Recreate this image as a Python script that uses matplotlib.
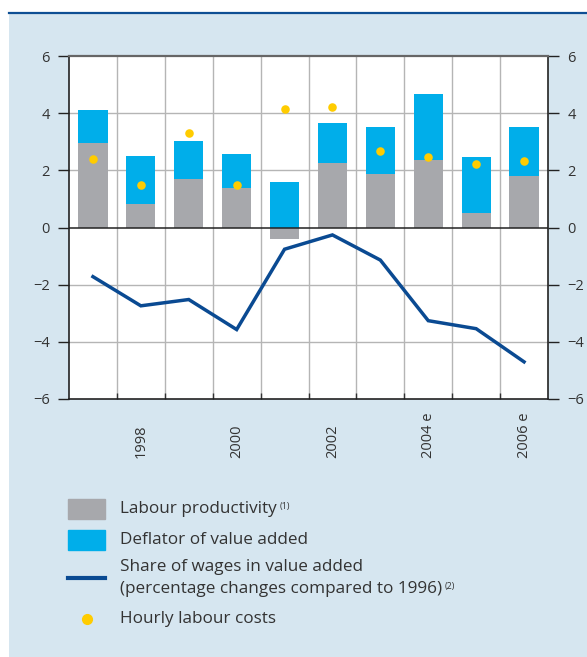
import matplotlib
matplotlib.use("Agg")
import matplotlib.pyplot as plt
from matplotlib.patches import Rectangle
from matplotlib.lines import Line2D
import numpy as np

plt.rcParams["font.family"] = ["Open Sans", "DejaVu Sans"]

# Data
years = ["1997", "1998", "1999", "2000", "2001", "2002", "2003", "2004 e", "2005 e", "2006 e"]
year_labels = ["", "1998", "", "2000", "", "2002", "", "2004 e", "", "2006 e"]
productivity = [2.95, 0.82, 1.70, 1.39, -0.40, 2.26, 1.87, 2.36, 0.51, 1.80]
deflator = [1.16, 1.68, 1.32, 1.18, 1.59, 1.39, 1.64, 2.31, 1.95, 1.71]
wage_share = [-1.72, -2.74, -2.52, -3.57, -0.76, -0.26, -1.14, -3.26, -3.54, -4.70]
hourly_costs = [2.38, 1.48, 3.29, 1.48, 4.14, 4.21, 2.66, 2.46, 2.22, 2.31]

BG = "#d6e6f0"
GREY = "#a7a8ac"
BLUE = "#00aeea"
NAVY = "#0a4a92"
YELLOW = "#ffcc00"
TEXT = "#333333"

W, H = 587, 657
fig = plt.figure(figsize=(W / 100, H / 100), dpi=100)
fig.patch.set_facecolor("white")

# Background panel and top rule
fig.patches.append(Rectangle((9 / W, 0), 1 - 9 / W, 1 - 13 / H,
                             transform=fig.transFigure, facecolor=BG,
                             edgecolor="none", zorder=-10))
fig.lines.append(Line2D([9 / W, 1], [1 - 12.5 / H, 1 - 12.5 / H],
                        transform=fig.transFigure, color="#0e4f94", lw=1.6))

ax = fig.add_axes([69 / W, 1 - 399 / H, (548 - 69) / W, (399 - 56) / H])
ax.set_facecolor("white")

x = np.arange(len(years))
base_blue = [p if p > 0 else 0 for p in productivity]
ax.bar(x, productivity, width=0.61, color=GREY, zorder=2)
ax.bar(x, deflator, bottom=base_blue, width=0.61, color=BLUE, zorder=2)
ax.plot(x, wage_share, color=NAVY, lw=2.5, zorder=4, solid_joinstyle="miter")
ax.scatter(x, hourly_costs, s=38, color=YELLOW, zorder=5, linewidths=0)

ax.set_xlim(-0.5, len(years) - 0.5)
ax.set_ylim(-6, 6)
ax.set_yticks([-6, -4, -2, 0, 2, 4, 6])

# Grid
for yv in [-4, -2, 2, 4]:
    ax.axhline(yv, color="#b5b5b5", lw=1.0, zorder=1)
ax.axhline(0, color="#222222", lw=1.1, zorder=3)
ax.set_xticks(np.arange(0.5, len(years) - 0.5, 1.0))
ax.set_xticklabels([])
ax.grid(axis="x", color="#b5b5b5", lw=1.0, zorder=1)
ax.tick_params(axis="x", direction="in", length=4, width=1.0, color="#333333")

ax.tick_params(axis="y", direction="out", length=8, width=1.0, color="#222222",
               labelsize=10.5, labelcolor=TEXT, pad=6,
               left=True, right=True, labelleft=True, labelright=True)

for side in ["left", "right", "bottom"]:
    ax.spines[side].set_color("#222222")
    ax.spines[side].set_linewidth(1.2)
ax.spines["top"].set_color("#666666")
ax.spines["top"].set_linewidth(1.6)

# Rotated year labels, anchored at their start
for xi, lab in zip(x, year_labels):
    if lab:
        ax.text(xi, -0.172, lab, transform=ax.get_xaxis_transform(),
                rotation=90, ha="center", va="bottom", fontsize=10.5,
                color=TEXT)

# Legend
def fx(px):
    return px / W


def fy(py):
    return 1 - py / H


fig.patches.append(Rectangle((fx(68), fy(519)), fx(37), 20 / H,
                             transform=fig.transFigure, color=GREY))
fig.patches.append(Rectangle((fx(68), fy(550)), fx(37), 20 / H,
                             transform=fig.transFigure, color=BLUE))
fig.lines.append(Line2D([fx(68), fx(105)], [fy(578.3), fy(578.3)],
                        transform=fig.transFigure, color=NAVY, lw=3))
fig.lines.append(Line2D([fx(87)], [fy(619)], transform=fig.transFigure,
                        marker="o", markersize=7, color=YELLOW, lw=0))

leg_fs = 12.3
t1 = fig.text(fx(120), fy(509), "Labour productivity", fontsize=leg_fs,
              color=TEXT, va="center")
fig.text(fx(120), fy(540), "Deflator of value added", fontsize=leg_fs,
         color=TEXT, va="center")
fig.text(fx(120), fy(567), "Share of wages in value added", fontsize=leg_fs,
         color=TEXT, va="center")
t4 = fig.text(fx(120), fy(589), "(percentage changes compared to 1996)",
              fontsize=leg_fs, color=TEXT, va="center")
fig.text(fx(120), fy(619), "Hourly labour costs", fontsize=leg_fs,
         color=TEXT, va="center")

for t, note in [(t1, "(1)"), (t4, "(2)")]:
    ax.annotate(note, xy=(1, 0.95), xycoords=t, xytext=(2, 0),
                textcoords="offset points", fontsize=6.5, color=TEXT,
                ha="left", va="top", annotation_clip=False)

fig.savefig("out.png", dpi=100, facecolor=fig.get_facecolor())
